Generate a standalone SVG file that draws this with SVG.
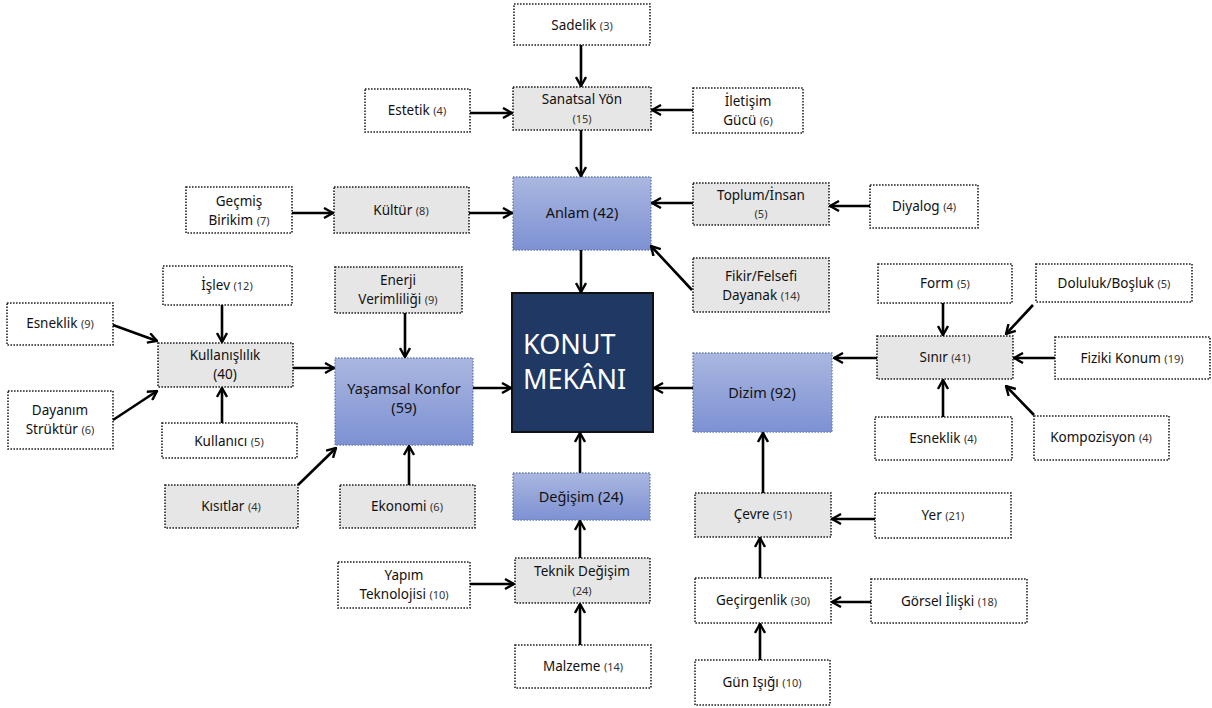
<svg xmlns="http://www.w3.org/2000/svg" width="1212" height="708" viewBox="0 0 1212 708">
<defs>
<linearGradient id="blue" x1="0" y1="0" x2="0" y2="1">
<stop offset="0" stop-color="#aab7e0"/>
<stop offset="1" stop-color="#7d91d3"/>
</linearGradient>
<marker id="arr" viewBox="0 0 12 12" refX="11" refY="6" markerWidth="12" markerHeight="12" markerUnits="userSpaceOnUse" orient="auto">
<path d="M2,1 L11,6 L2,11" fill="none" stroke="#000" stroke-width="2.4" stroke-linejoin="miter"/>
</marker>
<style>
.w{fill:#fff;stroke:#222;stroke-width:1.6;stroke-dasharray:1.6 1.4}
.g{fill:#e6e6e6;stroke:#222;stroke-width:1.6;stroke-dasharray:1.6 1.4}
.b{fill:url(#blue);stroke:#6a7fb8;stroke-width:1.4;stroke-dasharray:1.6 1.4}
.t{font-family:"Noto Sans","DejaVu Sans",sans-serif;font-size:13.5px;fill:#111;text-anchor:middle}
.n{font-size:11px;fill:#333}
.tb{font-family:"Noto Sans","DejaVu Sans",sans-serif;font-size:14.5px;fill:#111;text-anchor:middle}
.c line{stroke:#000;stroke-width:2.6;marker-end:url(#arr)}
</style>
</defs>
<rect width="1212" height="708" fill="#fff"/>

<g id="konut">
<rect x="512" y="293" width="141" height="139" fill="#1f3864" stroke="#111" stroke-width="2"/>
<text x="523" y="354" font-family="Noto Sans,DejaVu Sans,sans-serif" font-size="27" fill="#fff">KONUT</text>
<text x="523" y="389" font-family="Noto Sans,DejaVu Sans,sans-serif" font-size="27" fill="#fff">MEKÂNI</text>
</g>

<g id="sadelik"><rect class="w" x="514" y="4" width="136" height="41"/><text class="t" x="582" y="30">Sadelik <tspan class="n">(3)</tspan></text></g>
<g id="sanatsal"><rect class="g" x="513" y="87" width="138" height="43"/><text class="t" x="582" y="104">Sanatsal Yön</text><text class="t n" x="582" y="123">(15)</text></g>
<g id="estetik"><rect class="w" x="365" y="89" width="105" height="43"/><text class="t" x="417" y="115">Estetik <tspan class="n">(4)</tspan></text></g>
<g id="iletisim"><rect class="w" x="693" y="88" width="110" height="45"/><text class="t" x="748" y="106">İletişim</text><text class="t" x="748" y="125">Gücü <tspan class="n">(6)</tspan></text></g>

<g id="anlam"><rect class="b" x="513" y="177" width="138" height="73"/><text class="tb" x="582" y="218">Anlam (42)</text></g>
<g id="gecmis"><rect class="w" x="186" y="187" width="106" height="46"/><text class="t" x="239" y="206">Geçmiş</text><text class="t" x="239" y="225">Birikim <tspan class="n">(7)</tspan></text></g>
<g id="kultur"><rect class="g" x="334" y="187" width="135" height="46"/><text class="t" x="401" y="215">Kültür <tspan class="n">(8)</tspan></text></g>
<g id="toplum"><rect class="g" x="693" y="183" width="136" height="42"/><text class="t" x="761" y="200">Toplum/İnsan</text><text class="t n" x="761" y="218">(5)</text></g>
<g id="diyalog"><rect class="w" x="870" y="185" width="108" height="43"/><text class="t" x="924" y="211">Diyalog <tspan class="n">(4)</tspan></text></g>
<g id="fikir"><rect class="g" x="693" y="258" width="136" height="54"/><text class="t" x="761" y="281">Fikir/Felsefi</text><text class="t" x="761" y="300">Dayanak <tspan class="n">(14)</tspan></text></g>

<g id="islev"><rect class="w" x="163" y="266" width="129" height="39"/><text class="t" x="227" y="290">İşlev <tspan class="n">(12)</tspan></text></g>
<g id="esneklik9"><rect class="w" x="7" y="303" width="106" height="42"/><text class="t" x="60" y="328">Esneklik <tspan class="n">(9)</tspan></text></g>
<g id="kullanislilik"><rect class="g" x="158" y="343" width="135" height="44"/><text class="t" x="225" y="360">Kullanışlılık</text><text class="t" x="225" y="379">(40)</text></g>
<g id="dayanim"><rect class="w" x="8" y="391" width="105" height="58"/><text class="t" x="60" y="415">Dayanım</text><text class="t" x="60" y="434">Strüktür <tspan class="n">(6)</tspan></text></g>
<g id="kullanici"><rect class="w" x="162" y="423" width="135" height="35"/><text class="t" x="229" y="446">Kullanıcı <tspan class="n">(5)</tspan></text></g>
<g id="enerji"><rect class="g" x="335" y="267" width="127" height="46"/><text class="t" x="398" y="285">Enerji</text><text class="t" x="398" y="304">Verimliliği <tspan class="n">(9)</tspan></text></g>
<g id="yasamsal"><rect class="b" x="335" y="358" width="138" height="87"/><text class="tb" x="404" y="394">Yaşamsal Konfor</text><text class="tb" x="404" y="413">(59)</text></g>
<g id="kisitlar"><rect class="g" x="165" y="485" width="133" height="43"/><text class="t" x="231" y="511">Kısıtlar <tspan class="n">(4)</tspan></text></g>
<g id="ekonomi"><rect class="g" x="340" y="485" width="135" height="43"/><text class="t" x="407" y="511">Ekonomi <tspan class="n">(6)</tspan></text></g>

<g id="degisim"><rect class="b" x="513" y="473" width="137" height="47"/><text class="tb" x="581" y="502">Değişim (24)</text></g>
<g id="teknik"><rect class="g" x="515" y="558" width="135" height="45"/><text class="t" x="582" y="576">Teknik Değişim</text><text class="t n" x="582" y="595">(24)</text></g>
<g id="yapim"><rect class="w" x="338" y="562" width="132" height="46"/><text class="t" x="404" y="580">Yapım</text><text class="t" x="404" y="599">Teknolojisi <tspan class="n">(10)</tspan></text></g>
<g id="malzeme"><rect class="w" x="515" y="645" width="136" height="43"/><text class="t" x="583" y="671">Malzeme <tspan class="n">(14)</tspan></text></g>

<g id="dizim"><rect class="b" x="693" y="353" width="139" height="79"/><text class="tb" x="762" y="398">Dizim (92)</text></g>
<g id="form"><rect class="w" x="878" y="264" width="134" height="39"/><text class="t" x="945" y="288">Form <tspan class="n">(5)</tspan></text></g>
<g id="doluluk"><rect class="w" x="1036" y="264" width="156" height="38"/><text class="t" x="1114" y="288">Doluluk/Boşluk <tspan class="n">(5)</tspan></text></g>
<g id="sinir"><rect class="g" x="877" y="336" width="136" height="43"/><text class="t" x="945" y="362">Sınır <tspan class="n">(41)</tspan></text></g>
<g id="fiziki"><rect class="w" x="1055" y="337" width="155" height="42"/><text class="t" x="1132" y="363">Fiziki Konum <tspan class="n">(19)</tspan></text></g>
<g id="esneklik4"><rect class="w" x="875" y="417" width="137" height="43"/><text class="t" x="943" y="443">Esneklik <tspan class="n">(4)</tspan></text></g>
<g id="kompozisyon"><rect class="w" x="1034" y="416" width="135" height="44"/><text class="t" x="1101" y="442">Kompozisyon <tspan class="n">(4)</tspan></text></g>
<g id="cevre"><rect class="g" x="695" y="493" width="136" height="44"/><text class="t" x="763" y="519">Çevre <tspan class="n">(51)</tspan></text></g>
<g id="yer"><rect class="w" x="875" y="493" width="136" height="45"/><text class="t" x="943" y="520">Yer <tspan class="n">(21)</tspan></text></g>
<g id="gecirgenlik"><rect class="w" x="695" y="578" width="136" height="45"/><text class="t" x="763" y="605">Geçirgenlik <tspan class="n">(30)</tspan></text></g>
<g id="gorsel"><rect class="w" x="871" y="579" width="156" height="44"/><text class="t" x="949" y="606">Görsel İlişki <tspan class="n">(18)</tspan></text></g>
<g id="gunisigi"><rect class="w" x="695" y="660" width="135" height="45"/><text class="t" x="762" y="687">Gün Işığı <tspan class="n">(10)</tspan></text></g>

<g id="connectors" class="c">
<line x1="581" y1="45" x2="581" y2="86"/>
<line x1="470" y1="113" x2="512" y2="113"/>
<line x1="693" y1="110" x2="652" y2="110"/>
<line x1="581" y1="130" x2="581" y2="176"/>
<line x1="292" y1="213" x2="333" y2="213"/>
<line x1="469" y1="213" x2="512" y2="213"/>
<line x1="870" y1="206" x2="830" y2="206"/>
<line x1="693" y1="203" x2="652" y2="203"/>
<line x1="692" y1="290" x2="651" y2="246"/>
<line x1="581" y1="250" x2="581" y2="292"/>
<line x1="113" y1="325" x2="157" y2="341"/>
<line x1="113" y1="420" x2="157" y2="391"/>
<line x1="222" y1="305" x2="222" y2="342"/>
<line x1="222" y1="423" x2="222" y2="388"/>
<line x1="293" y1="368" x2="334" y2="368"/>
<line x1="405" y1="313" x2="405" y2="357"/>
<line x1="298" y1="485" x2="336" y2="448"/>
<line x1="409" y1="485" x2="409" y2="446"/>
<line x1="473" y1="388" x2="511" y2="388"/>
<line x1="580" y1="473" x2="580" y2="433"/>
<line x1="580" y1="558" x2="580" y2="521"/>
<line x1="470" y1="584" x2="514" y2="584"/>
<line x1="580" y1="645" x2="580" y2="604"/>
<line x1="693" y1="388" x2="654" y2="388"/>
<line x1="877" y1="358" x2="834" y2="358"/>
<line x1="943" y1="303" x2="943" y2="335"/>
<line x1="1033" y1="305" x2="1006" y2="334"/>
<line x1="1055" y1="358" x2="1014" y2="358"/>
<line x1="943" y1="417" x2="943" y2="380"/>
<line x1="1034" y1="415" x2="1006" y2="386"/>
<line x1="763" y1="493" x2="763" y2="433"/>
<line x1="875" y1="519" x2="832" y2="519"/>
<line x1="760" y1="578" x2="760" y2="538"/>
<line x1="871" y1="602" x2="832" y2="602"/>
<line x1="760" y1="660" x2="760" y2="624"/>
</g>
</svg>
